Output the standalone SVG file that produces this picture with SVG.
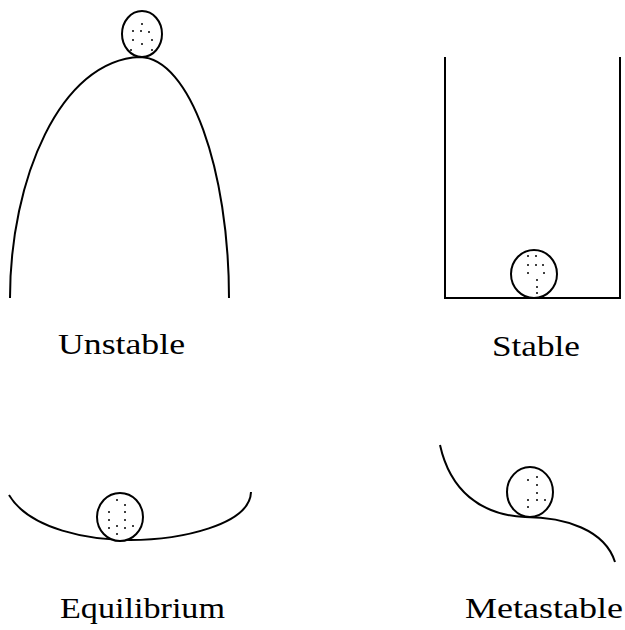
<svg xmlns="http://www.w3.org/2000/svg" width="625" height="630" viewBox="0 0 625 630">
<style>
.line{fill:none;stroke:#000;stroke-width:2}
.ball{fill:#fff;stroke:#000;stroke-width:2}
.dot{fill:#000}
.lbl{font-family:"Liberation Serif","Times New Roman",serif;font-size:30px;fill:#000;text-anchor:start}
</style>
<rect width="625" height="630" fill="#fff"/>
<g id="unstable">
<path class="line" d="M10,298 C10,180 60,60 140,57 C190,58 229,170 229,298"/>
<ellipse class="ball" cx="142" cy="34" rx="20" ry="23"/>
<g class="dot">
<circle cx="141" cy="31" r="1"/><circle cx="133" cy="31" r="1"/><circle cx="149" cy="32" r="1"/>
<circle cx="133" cy="40" r="1"/><circle cx="152" cy="40" r="1"/><circle cx="142" cy="44" r="1"/>
<circle cx="131" cy="50" r="1"/><circle cx="152" cy="50" r="1"/><circle cx="142" cy="24" r="1"/>
</g>
<text class="lbl" x="58" y="354" textLength="127" lengthAdjust="spacingAndGlyphs">Unstable</text>
</g>
<g id="stable">
<path class="line" d="M445,57 V298 H620 V57"/>
<ellipse class="ball" cx="534" cy="274" rx="23" ry="24"/>
<g class="dot">
<circle cx="528" cy="256" r="1"/><circle cx="536" cy="256" r="1"/>
<circle cx="528" cy="265" r="1"/><circle cx="536" cy="265" r="1"/><circle cx="543" cy="265" r="1"/>
<circle cx="528" cy="273" r="1"/><circle cx="544" cy="273" r="1"/>
<circle cx="537" cy="280" r="1"/><circle cx="537" cy="287" r="1"/><circle cx="537" cy="293" r="1"/>
</g>
<text class="lbl" x="492" y="356" textLength="88" lengthAdjust="spacingAndGlyphs">Stable</text>
</g>
<g id="equilibrium">
<path class="line" d="M9,495 C30,530 90,540 130,540 C180,540 250,525 251,492"/>
<ellipse class="ball" cx="120" cy="517" rx="23" ry="24"/>
<g class="dot">
<circle cx="117" cy="500" r="1"/><circle cx="125" cy="505" r="1"/>
<circle cx="109" cy="512" r="1"/><circle cx="125" cy="512" r="1"/>
<circle cx="109" cy="520" r="1"/><circle cx="125" cy="520" r="1"/>
<circle cx="109" cy="528" r="1"/><circle cx="117" cy="526" r="1"/><circle cx="125" cy="528" r="1"/><circle cx="133" cy="526" r="1"/>
<circle cx="117" cy="534" r="1"/>
</g>
<text class="lbl" x="60" y="618" textLength="165" lengthAdjust="spacingAndGlyphs">Equilibrium</text>
</g>
<g id="metastable">
<path class="line" d="M440,445 C450,490 480,515 525,517 C565,517 605,530 615,562"/>
<ellipse class="ball" cx="530" cy="492" rx="23" ry="25"/>
<g class="dot">
<circle cx="528" cy="480" r="1"/><circle cx="537" cy="477" r="1"/>
<circle cx="537" cy="485" r="1"/><circle cx="537" cy="493" r="1"/>
<circle cx="528" cy="500" r="1"/><circle cx="537" cy="500" r="1"/><circle cx="545" cy="500" r="1"/>
<circle cx="528" cy="507" r="1"/>
</g>
<text class="lbl" x="465" y="618" textLength="158" lengthAdjust="spacingAndGlyphs">Metastable</text>
</g>
<g id="connectors"/>
</svg>
